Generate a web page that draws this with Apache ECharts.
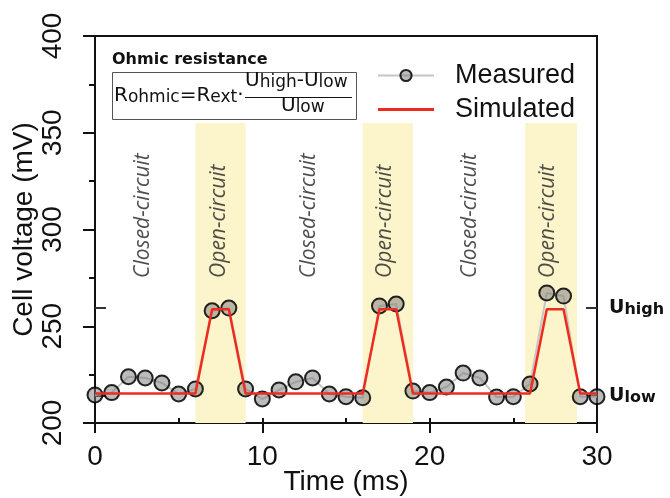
<!DOCTYPE html>
<html><head><meta charset="utf-8">
<script src="https://cdn.jsdelivr.net/npm/echarts@6/dist/echarts.min.js"></script>
<style>html,body{margin:0;padding:0;background:#fff}#c{width:670px;height:498px}</style>
</head><body><div id="c"></div>
<script>
// ---- data ----
const measTime = [0,1,2,3,4,5,6,7,8,9,10,11,12,13,14,15,16,17,18,19,20,21,22,23,24,25,26,27,28,29,30];
const measVolt = [214.5,215.7,223.9,223.3,220.7,215.0,217.6,258.0,259.4,217.6,212.4,217.1,221.3,223.3,215.0,213.6,213.1,260.5,261.5,216.5,215.7,218.6,225.8,223.3,213.4,213.6,220.2,267.2,265.6,213.6,213.6];
const simTime = [0,6,7,8,9,16,17,18,19,26,27,28,29,30];
const simVolt = [215.3,215.3,258.8,258.8,215.3,215.3,258.8,258.8,215.3,215.3,258.8,258.8,215.3,215.3];
const bandStart = [6,16,25.7];
const bandEnd = [9,19,28.8];
const bandBottom = 200, bandTop = 355;
const phaseNames = ['Closed-circuit','Open-circuit','Closed-circuit','Open-circuit','Closed-circuit','Open-circuit'];
const phaseTime = [2.85,7.4,12.8,17.35,22.4,27.1];
const phaseVolt = 275;
const uLevels = [259.5, 214];
const uSubs = ['high','low'];
const xMin = 0, xMax = 30, xStep = 10;
const yMin = 200, yMax = 400, yStep = 50;

const chart = echarts.init(document.getElementById('c'));
const axisFont = 'Liberation Sans, Arial, sans-serif';
const black = '#111';
const formFont = 'DejaVu Sans, Verdana, sans-serif';

const option = {
  animation: false,
  backgroundColor: '#fff',
  grid: {left: 95, right: 73, top: 36, bottom: 75, outerBoundsMode: 'none', containLabel: false,
    show: true, borderColor: black, borderWidth: 2, backgroundColor: 'transparent'},
  legend: {
    data: ['Measured', {name: 'Simulated', icon: 'path://M0,0H56V3H0Z'}],
    orient: 'vertical', left: 372, top: 57,
    itemWidth: 56, itemHeight: 14, itemGap: 7,
    textStyle: {fontSize: 27, fontFamily: axisFont, color: black, padding: [0,0,0,16]}
  },
  xAxis: [{
    type: 'value', min: xMin, max: xMax, interval: xStep,
    axisLine: {lineStyle: {color: black, width: 2}},
    axisTick: {length: 10, lineStyle: {width: 2, color: black}},
    axisLabel: {fontSize: 28, fontFamily: axisFont, color: black, margin: 20},
    splitLine: {show: false},
    name: 'Time (ms)', nameLocation: 'middle', nameGap: 45, nameMoveOverlap: false,
    nameTextStyle: {fontSize: 28, fontFamily: axisFont, color: black}
  },{
    type: 'value', min: xMin, max: xMax, interval: xStep/2, position: 'bottom',
    axisLine: {show: false}, axisTick: {inside: true, length: 5, lineStyle: {width: 2, color: black}},
    axisLabel: {show: false}, splitLine: {show: false}
  }],
  yAxis: [{
    type: 'value', min: yMin, max: yMax, interval: yStep,
    axisLine: {lineStyle: {color: black, width: 2}},
    axisTick: {length: 12, lineStyle: {width: 2, color: black}},
    minorTick: {show: true, splitNumber: 2, length: 6, lineStyle: {width: 2, color: black}},
    axisLabel: {
      rotate: 90, margin: 28, fontSize: 28, fontFamily: axisFont, color: black,
      showMinLabel: true, showMaxLabel: true
    },
    splitLine: {show: false},
    name: 'Cell voltage (mV)', nameLocation: 'middle', nameGap: 57, nameRotate: 90, nameMoveOverlap: false,
    nameTextStyle: {fontSize: 28, fontFamily: axisFont, color: black}
  },{
    type: 'value', min: yMin, max: yMax, position: 'right',
    axisLine: {show: true, lineStyle: {color: black, width: 2}},
    axisTick: {show: true, customValues: uLevels, length: 11, lineStyle: {width: 2, color: '#333'}},
    axisLabel: {
      show: true, customValues: uLevels, margin: 12,
      formatter: function (v) { const i = uLevels.indexOf(v); return '{u|U}{s|' + uSubs[i] + '}'; },
      rich: {
        u: {fontSize: 19, fontWeight: 'bold', fontFamily: formFont, color: black, verticalAlign: 'bottom'},
        s: {fontSize: 16, fontWeight: 'bold', fontFamily: formFont, color: black, verticalAlign: 'bottom'}
      }
    },
    splitLine: {show: false}
  },{
    type: 'value', min: yMin, max: yMax, position: 'right',
    axisLine: {show: false},
    axisTick: {show: true, inside: true, customValues: uLevels, length: 11, lineStyle: {width: 2, color: '#333'}},
    axisLabel: {show: false}, splitLine: {show: false}
  }],
  series: [
    {
      name: 'bands', type: 'line', data: [], silent: true, z: 0,
      markArea: {
        silent: true,
        itemStyle: {color: '#fcf4cb'},
        data: bandStart.map((s, i) => [{xAxis: s, yAxis: bandBottom}, {xAxis: bandEnd[i], yAxis: bandTop}])
      }
    },
    {
      name: 'Measured', type: 'line', z: 3,
      data: measTime.map((t, i) => [t, measVolt[i]]),
      symbol: 'circle', symbolSize: 15, showAllSymbol: true,
      itemStyle: {color: 'rgba(120,120,120,0.5)', borderColor: 'rgba(0,0,0,0.85)', borderWidth: 2},
      lineStyle: {color: '#c6c6c6', width: 2}
    },
    {
      name: 'Simulated', type: 'line', z: 4,
      data: simTime.map((t, i) => [t, simVolt[i]]),
      symbol: 'none', itemStyle: {color: '#ee2b1f'},
      lineStyle: {color: '#ee2b1f', width: 2.5}
    },
    {
      name: 'phases', type: 'scatter', z: 5, silent: true,
      symbolSize: 0,
      data: phaseTime.map((t, i) => ({name: phaseNames[i], value: [t, phaseVolt]})),
      label: {
        show: true, position: 'inside', rotate: 90, align: 'left', verticalAlign: 'middle',
        formatter: p => p.name,
        fontSize: 21, fontStyle: 'italic', fontFamily: 'Open Sans, Noto Sans, sans-serif', color: '#222'
      }
    }
  ],
  graphic: [
    {type: 'text', left: 112, top: 52, z: 10, style: {text: 'Ohmic resistance', font: 'bold 16px ' + formFont, fill: black}},
    {type: 'rect', z: 10, shape: {x: 112.5, y: 72.5, width: 244, height: 47}, style: {fill: '#fff', stroke: '#555', lineWidth: 1}},
    {type: 'text', z: 11, x: 114, y: 86, style: {
      text: '{R|R}{s|ohmic}{R|=R}{s|ext}{R|·}',
      rich: {
        R: {fontSize: 20, fontFamily: formFont, fill: black, verticalAlign: 'bottom'},
        s: {fontSize: 17, fontFamily: formFont, fill: black, verticalAlign: 'bottom'}
      }
    }},
    {type: 'text', z: 11, x: 245, y: 71, style: {
      text: '{R|U}{s|high}{R|-U}{s|low}',
      rich: {
        R: {fontSize: 20, fontFamily: formFont, fill: black, verticalAlign: 'bottom'},
        s: {fontSize: 17, fontFamily: formFont, fill: black, verticalAlign: 'bottom'}
      }
    }},
    {type: 'line', z: 11, shape: {x1: 245, y1: 97.5, x2: 352, y2: 97.5}, style: {stroke: black, lineWidth: 1.2}},
    {type: 'text', z: 11, x: 281, y: 96, style: {
      text: '{R|U}{s|low}',
      rich: {
        R: {fontSize: 20, fontFamily: formFont, fill: black, verticalAlign: 'bottom'},
        s: {fontSize: 17, fontFamily: formFont, fill: black, verticalAlign: 'bottom'}
      }
    }}
  ]
};
chart.setOption(option);
</script>
</body></html>
